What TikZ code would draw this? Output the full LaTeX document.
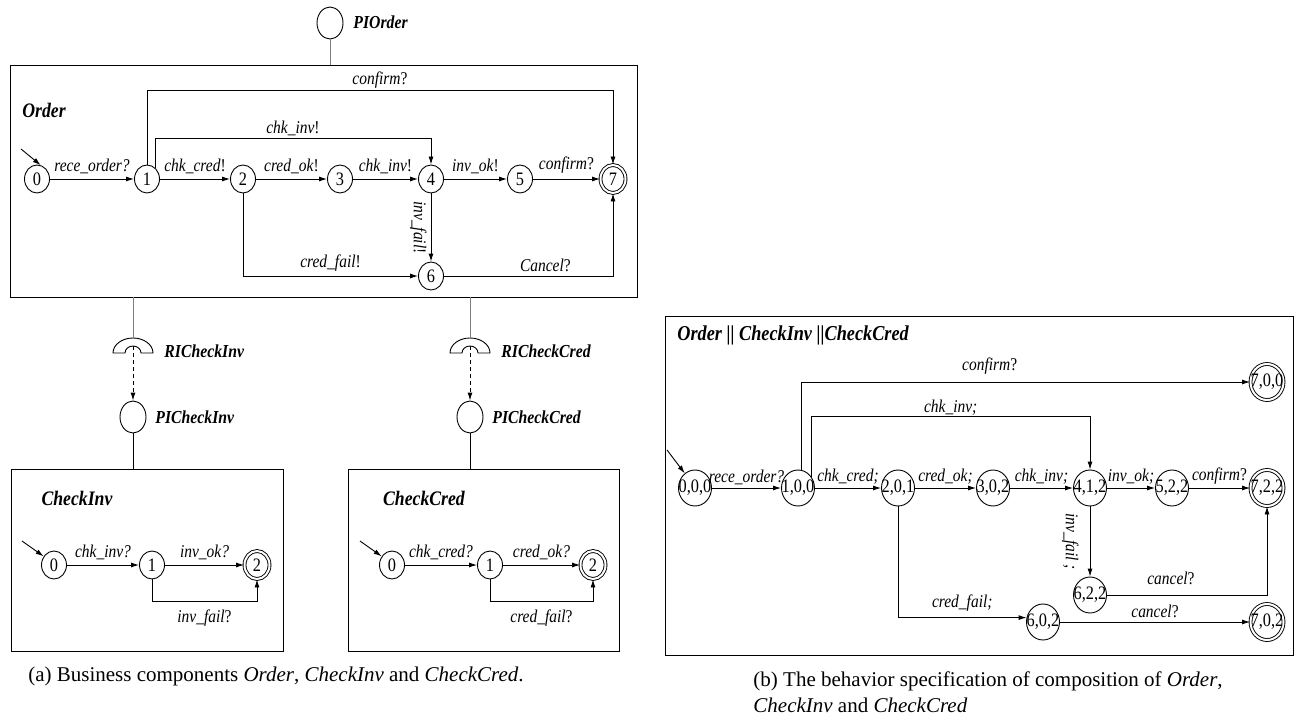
\documentclass[tikz,border=0pt]{standalone}
\usepackage{fontspec}
\setmainfont{Liberation Serif}
\newfontfamily\dgmfont[FakeStretch=0.86]{Liberation Serif}
\usetikzlibrary{arrows.meta,shapes.geometric}

\begin{document}
\begin{tikzpicture}[x=1pt,y=1pt,line width=0.9pt,
    st/.style={draw,ellipse,minimum width=25pt,minimum height=28pt,inner sep=0pt,font=\dgmfont\fontsize{19}{19}\selectfont},
    acc/.style={st,double,double distance=2pt},
    cst/.style={draw,ellipse,minimum width=33pt,minimum height=36pt,inner sep=0pt,font=\dgmfont\fontsize{19}{19}\selectfont},
    cacc/.style={cst,double,double distance=2pt},
    pi/.style={draw,ellipse,minimum width=26pt,minimum height=32pt,inner sep=0pt},
    cbox/.style={draw,rectangle,inner sep=0pt},
    ttl/.style={font=\dgmfont\fontsize{20.6}{21}\selectfont\bfseries\itshape,inner sep=0pt},
    ifc/.style={font=\dgmfont\fontsize{18.3}{19}\selectfont\bfseries\itshape,inner sep=0pt,anchor=west},
    lbl/.style={font=\dgmfont\fontsize{18}{19}\selectfont,inner sep=1pt},
    captxt/.style={font=\fontsize{21}{24}\selectfont,inner sep=0pt},
    arr/.style={-{Latex[length=8pt,width=5pt]}}]
\useasboundingbox (0,0) rectangle (1300,-722);

\node[pi] (pio) at (330,-23) {};
\node[ifc] (pioT) at (353,-22) {PIOrder};
\node[cbox,minimum width=627pt,minimum height=232pt] (order) at (323.5,-181) {};
\draw[gray] (pio) -- (pio |- order.north);
\node[ttl] (orderT) at (44,-110) {Order};
\foreach \n/\x in {0/37,1/147,2/243,3/340,4/431,5/520} \node[st] (s\n) at (\x,-179) {\n};
\node[st] (s6) at (431,-276) {6};
\node[acc] (s7) at (613,-179) {7};
\coordinate (s0i) at (21,-149);
\draw[arr] (s0i) -- (s0.75);
\draw[arr] (s0) -- node[lbl,above=4pt] {\textit{rece\_order?}} (s1);
\draw[arr] (s1) -- node[lbl,above=4pt] {\textit{chk\_cred}!} (s2);
\draw[arr] (s2) -- node[lbl,above=4pt] {\textit{cred\_ok}!} (s3);
\draw[arr] (s3) -- node[lbl,above=4pt] {\textit{chk\_inv}!} (s4);
\draw[arr] (s4) -- node[lbl,above=4pt] {\textit{inv\_ok}!} (s5);
\draw[arr] (s5) -- node[lbl,above=4pt] {\textit{confirm}?} (s7);
\draw[arr] (s1.north) -- ++(0,74) -| node[lbl,above=1pt,pos=0.25] {\textit{confirm}?} (s7.north);
\draw[arr] (s1.55) -- ++(0,29) -| node[lbl,above=1pt,pos=0.25] {\textit{chk\_inv}!} (s4.north);
\draw[arr] (s4) -- node[lbl,rotate=-90,anchor=north,inner sep=4pt] {\textit{inv\_fail}!} (s6);
\draw[arr] (s2) |- node[lbl,above=3pt,pos=0.75] {\textit{cred\_fail}!} (s6);
\draw[arr] (s6) -| node[lbl,above=3pt,pos=0.3] {\textit{Cancel}?} (s7);

\foreach \i/\x/\nm in {1/133/CheckInv,2/470/CheckCred}{
  \coordinate (rt\i) at (\x,-338);
  \coordinate (ri\i) at (\x,-346);
  \draw (\x-20,-353) arc[start angle=180,end angle=0,x radius=20,y radius=15] -- (\x+8,-353) arc[start angle=0,end angle=180,x radius=8,y radius=7] -- cycle;
  \node[pi] (pi\i) at (\x,-417) {};
  \node[ifc] (riT\i) at (\x+31,-351) {RI\nm};
  \node[ifc] (piT\i) at (\x+22,-417) {PI\nm};
  \draw[gray] (order.south -| rt\i) -- (rt\i);
  \draw[arr,dash pattern=on 4pt off 3pt] (ri\i) -- (pi\i);
}

\node[cbox,minimum width=272pt,minimum height=182pt] (inv) at (147,-560) {};
\node[cbox,minimum width=271pt,minimum height=182pt] (cred) at (483.5,-560) {};
\draw (pi1) -- (pi1 |- inv.north);
\draw (pi2) -- (pi2 |- cred.north);
\node[ttl] (invT) at (77,-498) {CheckInv};
\node[ttl] (credT) at (424,-498) {CheckCred};
\node[st] (i0) at (54,-565) {0};
\node[st] (i1) at (152,-565) {1};
\node[acc] (i2) at (257,-565) {2};
\node[st] (c0) at (392,-565) {0};
\node[st] (c1) at (490,-565) {1};
\node[acc] (c2) at (593,-565) {2};
\coordinate (i0i) at (22,-541);
\coordinate (c0i) at (360,-541);
\draw[arr] (i0i) -- (i0.140);
\draw[arr] (c0i) -- (c0.140);
\draw[arr] (i0) -- node[lbl,above=4pt] {\textit{chk\_inv?}} (i1);
\draw[arr] (i1) -- node[lbl,above=4pt] {\textit{inv\_ok?}} (i2);
\draw[arr] (i1.south) -- ++(0,-22) -| node[lbl,below=7pt,pos=0.25] {\textit{inv\_fail}?} (i2.south);
\draw[arr] (c0) -- node[lbl,above=4pt] {\textit{chk\_cred?}} (c1);
\draw[arr] (c1) -- node[lbl,above=4pt] {\textit{cred\_ok?}} (c2);
\draw[arr] (c1.south) -- ++(0,-22) -| node[lbl,below=7pt,pos=0.25] {\textit{cred\_fail}?} (c2.south);

\node[cbox,minimum width=628pt,minimum height=339pt] (comp) at (979,-485.5) {};
\node[ttl,anchor=west,font=\dgmfont\fontsize{21.2}{22}\selectfont\bfseries\itshape] (compT) at (677,-335) {Order || CheckInv ||CheckCred};
\foreach \n/\x/\y/\t in {000/695/488/{0,0,0},100/798/488/{1,0,0},201/898/488/{2,0,1},302/993/488/{3,0,2},412/1090/488/{4,1,2},522/1172/488/{5,2,2},622/1090/595/{6,2,2},602/1043/622/{6,0,2}}
  \node[cst] (a\n) at (\x,-\y) {\makebox[0pt]{\t}};
\foreach \n/\x/\y/\t in {722/1267/488/{7,2,2},700/1267/382/{7,0,0},702/1267/622/{7,0,2}}
  \node[cacc] (a\n) at (\x,-\y) {\makebox[0pt]{\t}};
\coordinate (a0i) at (667,-450);
\draw[arr] (a0i) -- (a000.125);
\draw[arr] (a000) -- node[lbl,above=2pt] {\textit{rece\_order?}} (a100);
\draw[arr] (a100) -- node[lbl,above=2pt] {\textit{chk\_cred;}} (a201);
\draw[arr] (a201) -- node[lbl,above=2pt] {\textit{cred\_ok;}} (a302);
\draw[arr] (a302) -- node[lbl,above=2pt] {\textit{chk\_inv;}} (a412);
\draw[arr] (a412) -- node[lbl,above=2pt] {\textit{inv\_ok;}} (a522);
\draw[arr] (a522) -- node[lbl,above=2pt] {\textit{confirm}?} (a722);
\draw[arr] (a100.80) |- node[lbl,above=6pt,pos=0.71] {\textit{confirm}?} (a700);
\draw[arr] (a100.40) -- ++(0,60) -| node[lbl,above=0pt,pos=0.25] {\textit{chk\_inv;}} (a412.north);
\draw[arr] (a412) -- node[lbl,rotate=-90,anchor=north,inner sep=11pt] {\textit{inv\_fail ;}} (a622);
\draw[arr] (a622) -| node[lbl,above=9pt,pos=0.2] {\textit{cancel}?} (a722);
\draw[arr] (a201) |- node[lbl,above=5pt,pos=0.75] {\textit{cred\_fail;}} (a602.165);
\draw[arr] (a602) -- node[lbl,above=3pt] {\textit{cancel}?} (a702);

\node[captxt,anchor=base] (capa) at (276,-681) {(a) Business components \textit{Order}, \textit{CheckInv} and \textit{CheckCred}.};
\node[captxt,anchor=base west] (capb1) at (753,-686) {(b) The behavior specification of composition of \textit{Order},};
\node[captxt,anchor=base west] (capb2) at (753,-712) {\textit{CheckInv} and \textit{CheckCred}};
\end{tikzpicture}
\end{document}
